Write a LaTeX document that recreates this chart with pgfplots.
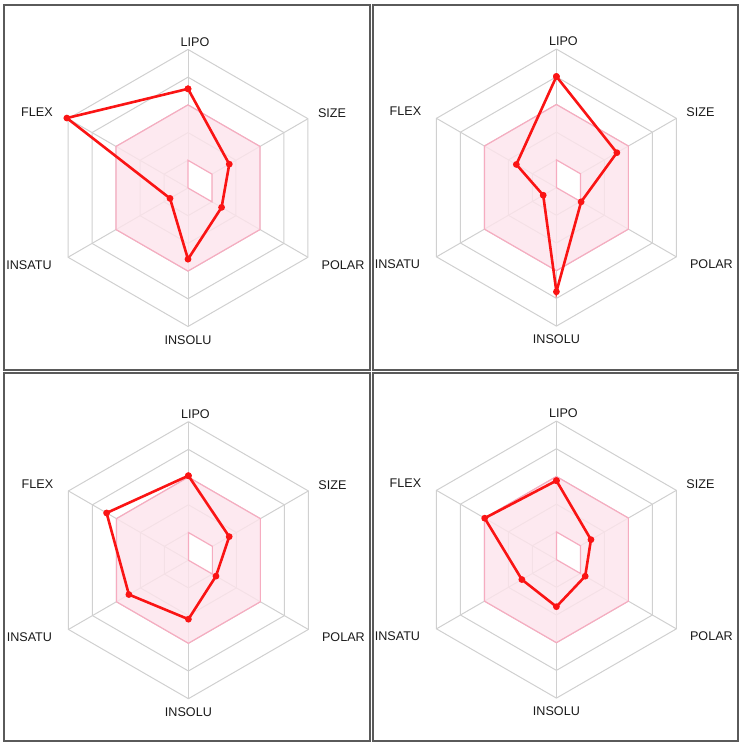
\documentclass[border=0pt]{standalone}
\usepackage{pgfplots}
\pgfplotsset{compat=1.18}
\usepgfplotslibrary{polar}
\usepackage{fontspec}
\setmainfont{Liberation Sans}
\definecolor{gridc}{RGB}{208,208,208}
\definecolor{pinkfill}{RGB}{253,228,236}
\definecolor{pinkedge}{RGB}{246,172,192}
\definecolor{datared}{RGB}{250,20,20}
\definecolor{borderc}{RGB}{90,90,90}
\definecolor{labc}{RGB}{25,25,25}
\tikzset{lab/.style={font=\fontsize{6.3pt}{7pt}\selectfont, text=labc, inner sep=0pt}}
\pgfplotsset{gridl/.style={draw=gridc, line width=0.5pt, mark=none}}
\newcommand{\panel}[5]{%
\draw[borderc, line width=1pt] (#1) rectangle (#2);
\begin{polaraxis}[at={(#3pt,#4pt)}, anchor=origin, hide axis, scale only axis,
  width=138.5pt, height=138.5pt, ymin=0, ymax=5, clip=false]
\addplot[gridl] coordinates {(90,1)(30,1)(330,1)(270,1)(210,1)(150,1)(90,1)};
\addplot[gridl] coordinates {(90,2)(30,2)(330,2)(270,2)(210,2)(150,2)(90,2)};
\addplot[gridl] coordinates {(90,3)(30,3)(330,3)(270,3)(210,3)(150,3)(90,3)};
\addplot[gridl] coordinates {(90,4)(30,4)(330,4)(270,4)(210,4)(150,4)(90,4)};
\addplot[gridl] coordinates {(90,5)(30,5)(330,5)(270,5)(210,5)(150,5)(90,5)};
\addplot[gridl] coordinates {(90,0)(90,5)};
\addplot[gridl] coordinates {(30,0)(30,5)};
\addplot[gridl] coordinates {(330,0)(330,5)};
\addplot[gridl] coordinates {(270,0)(270,5)};
\addplot[gridl] coordinates {(210,0)(210,5)};
\addplot[gridl] coordinates {(150,0)(150,5)};
\addplot[draw=pinkedge, line width=0.6pt, fill=pinkfill, fill opacity=0.8, mark=none] coordinates {(90,3)(30,3)(330,3)(270,3)(210,3)(150,3)(90,3)};
\addplot[draw=pinkedge, line width=0.6pt, fill=white, mark=none] coordinates {(0,0)(90,1)(30,1)(330,1)(0,0)};
\addplot[datared, line width=1.3pt, mark=*, mark size=1pt, mark options={solid, fill=datared, draw=datared}] coordinates {#5};
\end{polaraxis}
\node[lab] at (#3pt+3.5pt, #4pt+73pt) {LIPO};
\node[lab] at (#3pt+72pt, #4pt+37.5pt) {SIZE};
\node[lab] at (#3pt-75.5pt, #4pt+38pt) {FLEX};
\node[lab] at (#3pt-79.5pt, #4pt-38.5pt) {INSATU};
\node[lab] at (#3pt+77.5pt, #4pt-38.5pt) {POLAR};
\node[lab] at (#3pt, #4pt-76pt) {INSOLU};
}
\begin{document}
\begin{tikzpicture}
\path[use as bounding box] (0,0) rectangle (372pt,373.5pt);
\panel{2pt,188.5pt}{185pt,371pt}{94}{279.5}{(90,3.58)(30,1.72)(330,1.40)(270,2.57)(210,0.75)(150,5.05)(90,3.58)}
\panel{186.5pt,188.5pt}{369pt,371pt}{278.2}{279.7}{(90,4.01)(30,2.52)(330,1.03)(270,3.76)(210,0.55)(150,1.67)(90,4.01)}
\panel{2pt,3pt}{185pt,187pt}{94.2}{93.4}{(90,3.05)(30,1.70)(330,1.15)(270,2.13)(210,2.48)(150,3.41)(90,3.05)}
\panel{186.5pt,3pt}{369pt,187pt}{278.2}{93.7}{(90,2.85)(30,1.44)(330,1.20)(270,1.70)(210,1.44)(150,2.99)(90,2.85)}
\end{tikzpicture}
\end{document}
